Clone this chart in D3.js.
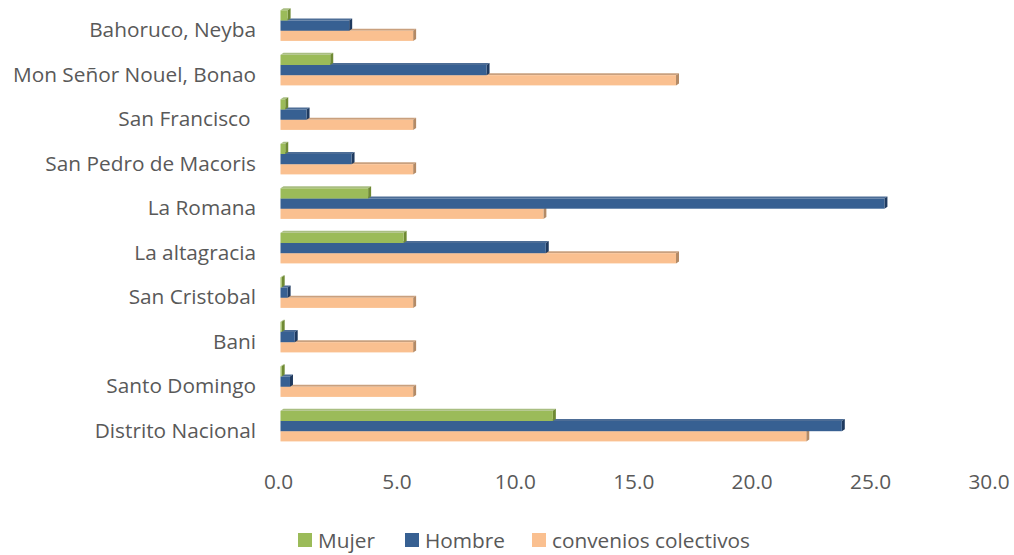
<!DOCTYPE html>
<html>
<head>
<meta charset="utf-8">
<script src="https://cdn.jsdelivr.net/npm/d3@7"></script>
<style>
  html, body { margin: 0; padding: 0; background: #fff; }
  svg { display: block; }
  text { font-family: "Open Sans", "Noto Sans", sans-serif; fill: #595959; white-space: pre; }
</style>
</head>
<body>
<svg id="chart" width="1014" height="555"></svg>
<script>
const categories = ["Bahoruco, Neyba", "Mon Señor Nouel, Bonao", "San Francisco ", "San Pedro de Macoris", "La Romana", "La altagracia", "San Cristobal", "Bani", "Santo Domingo", "Distrito Nacional"];
const seriesNames = ["Mujer", "Hombre", "convenios colectivos"];
const mujer = [0.3, 2.1, 0.2, 0.2, 3.7, 5.2, 0.05, 0.05, 0.05, 11.5];
const hombre = [2.9, 8.7, 1.1, 3.0, 25.5, 11.2, 0.3, 0.6, 0.4, 23.7];
const convenios = [5.6, 16.7, 5.6, 5.6, 11.1, 16.7, 5.6, 5.6, 5.6, 22.2];
const xTicks = [0, 5, 10, 15, 20, 25, 30];

const colors = {
  front: ["#9BBB59", "#376092", "#FAC090"],
  top:   ["#a9be82", "#4d6d96", "#c9a07e"],
  side:  ["#6f8a34", "#1f3a5f", "#b38a66"]
};
const values = [mujer, hombre, convenios];
const FS = "20.8px";

const svg = d3.select("#chart");
const x = d3.scaleLinear().domain([0, 30]).range([280.5, 991]);
const y = d3.scaleBand().domain(categories).range([3.35, 448.35]).paddingInner(0.3124).paddingOuter(0.1562);
const sub = d3.scaleBand().domain(d3.range(3)).range([0, y.bandwidth()]);
const dx = 3, dy = 2;

const bars = [];
categories.forEach((c, i) => {
  [2, 1, 0].forEach(j => bars.push({ c, j, v: values[j][i] }));
});

const g = svg.append("g");
bars.forEach(b => {
  const y0 = y(b.c) + sub(b.j), h = sub.bandwidth();
  const x0 = x(0), xv = x(b.v);
  g.append("polygon")
    .attr("points", [[x0, y0], [x0 + dx, y0 - dy], [xv + dx, y0 - dy], [xv, y0]].map(p => p.join(",")).join(" "))
    .attr("fill", colors.top[b.j]);
  g.append("polygon")
    .attr("points", [[xv, y0], [xv + dx, y0 - dy], [xv + dx, y0 + h - dy], [xv, y0 + h]].map(p => p.join(",")).join(" "))
    .attr("fill", colors.side[b.j]);
  g.append("rect")
    .attr("x", x0).attr("y", y0)
    .attr("width", Math.max(0, xv - x0)).attr("height", h)
    .attr("fill", colors.front[b.j]);
});

svg.append("g").selectAll("text").data(categories).join("text")
  .attr("x", 256)
  .attr("y", d => y(d) + y.bandwidth() / 2 + 3.5)
  .attr("text-anchor", "end")
  .attr("dominant-baseline", "central")
  .style("font-size", FS)
  .text(d => d);

svg.append("g").selectAll("text").data(xTicks).join("text")
  .attr("x", d => x(d) - 2)
  .attr("y", 481)
  .attr("text-anchor", "middle")
  .attr("dominant-baseline", "central")
  .style("font-size", FS)
  .text(d => d3.format(".1f")(d));

const legendPos = [298, 405, 532];
const lg = svg.append("g");
seriesNames.forEach((n, j) => {
  lg.append("rect").attr("x", legendPos[j]).attr("y", 533).attr("width", 14).attr("height", 14).attr("fill", colors.front[j]);
  lg.append("text").attr("x", legendPos[j] + 20).attr("y", 540)
    .attr("dominant-baseline", "central")
    .style("font-size", FS)
    .text(n);
});
</script>
</body>
</html>
